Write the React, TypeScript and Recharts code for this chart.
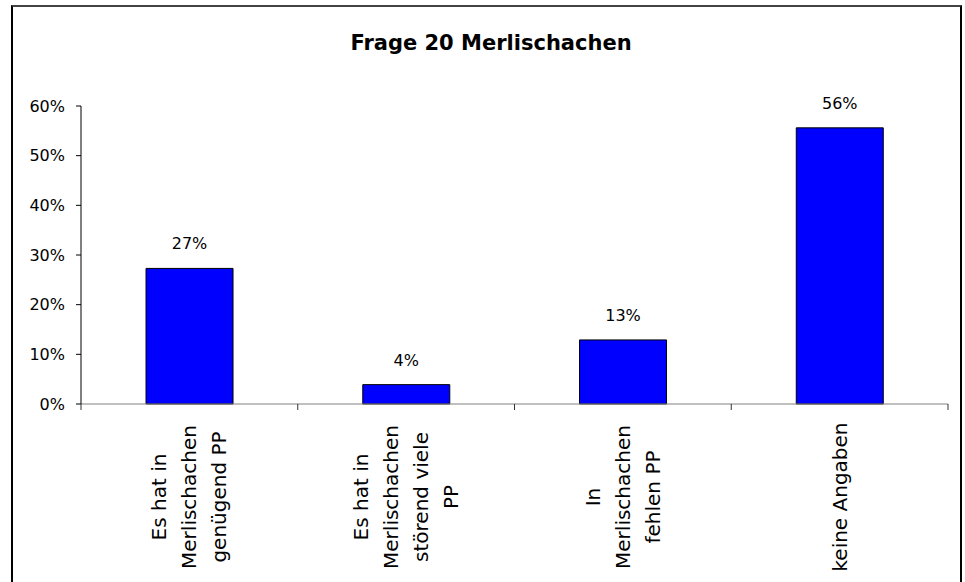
import { BarChart, Bar, XAxis, YAxis, LabelList } from "recharts";

const categories = [
  "Es hat in\nMerlischachen\ngenügend PP",
  "Es hat in\nMerlischachen\nstörend viele\nPP",
  "In\nMerlischachen\nfehlen PP",
  "keine Angaben",
];
const shares = [0.273, 0.039, 0.129, 0.556];
const yTicks = [0, 0.1, 0.2, 0.3, 0.4, 0.5, 0.6];

const data = categories.map((name, i) => ({ name, value: shares[i] }));

const FONT = "DejaVu Sans";
const pct = (v: number) => `${Math.round(v * 100)}%`;

// rotated multi-line category label + tick marks on the band edges
function CategoryTick(props: any) {
  const { x, y, payload, index, width } = props;
  const half = payload.offset ?? width / (categories.length * 2);
  const lines = String(payload.value).split("\n");
  const n = lines.length;
  const isLast = index === categories.length - 1;
  return (
    <g>
      <line x1={x - half} x2={x - half} y1={y} y2={y + 6} stroke="#333" />
      {isLast && <line x1={x + half} x2={x + half} y1={y} y2={y + 6} stroke="#333" />}
      <text
        transform={`translate(${x},${y + 93}) rotate(-90)`}
        textAnchor="middle"
        fontFamily={FONT}
        fontSize={20}
        fill="#000"
      >
        {lines.map((l, i) => (
          <tspan key={i} x={0} y={(i - (n - 1) / 2) * 30 + 7}>
            {l}
          </tspan>
        ))}
      </text>
    </g>
  );
}

export default function App() {
  return (
    <div
      style={{
        position: "absolute",
        left: 0,
        top: 0,
        width: 965,
        height: 582,
        overflow: "hidden",
        background: "#fff",
        fontFamily: FONT,
      }}
    >
      <div
        style={{
          position: "absolute",
          left: 11,
          top: 5,
          width: 947,
          height: 600,
          borderTop: "2px solid #444",
          borderLeft: "2px solid #000",
          borderRight: "2px solid #000",
        }}
      />
      <div
        style={{
          position: "absolute",
          left: 0,
          width: 982,
          top: 30,
          textAlign: "center",
          fontSize: 21,
          lineHeight: "26px",
          fontWeight: "bold",
          color: "#000",
        }}
      >
        Frage 20 Merlischachen
      </div>
      <BarChart
        width={965}
        height={582}
        data={data}
        margin={{ top: 106, right: 17, bottom: 0, left: 0 }}
        barCategoryGap="30%"
        style={{ position: "absolute", left: 0, top: 0 }}
      >
        <XAxis
          dataKey="name"
          height={178}
          interval={0}
          axisLine={{ stroke: "#808080" }}
          tickLine={false}
          tickSize={0}
          tickMargin={0}
          tick={<CategoryTick />}
        />
        <YAxis
          width={81}
          domain={[0, 0.6]}
          ticks={yTicks}
          tickFormatter={pct}
          axisLine={{ stroke: "#000" }}
          tickLine={{ stroke: "#000" }}
          tickSize={5}
          tickMargin={11}
          tick={{ fill: "#000", fontSize: 16, fontFamily: FONT }}
        />
        <Bar dataKey="value" fill="#0000FF" stroke="#000" strokeWidth={1} isAnimationActive={false}>
          <LabelList
            dataKey="value"
            position="top"
            offset={19}
            formatter={(v: any) => pct(Number(v))}
            style={{ fill: "#000", fontSize: 16, fontFamily: FONT }}
          />
        </Bar>
      </BarChart>
    </div>
  );
}
